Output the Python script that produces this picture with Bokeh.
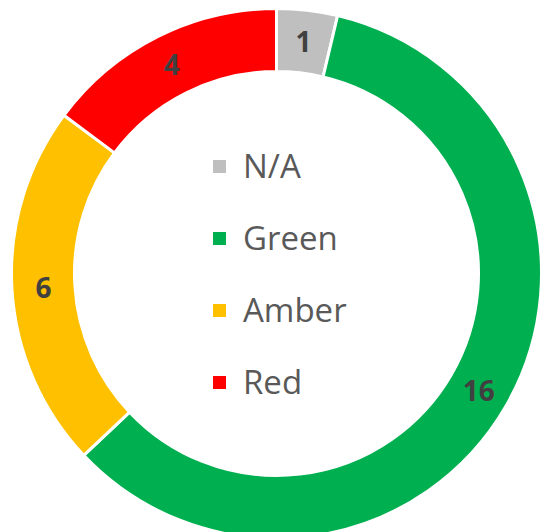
import math
from bokeh.plotting import figure
from bokeh.models import Range1d, ColumnDataSource, Legend, LegendItem
from bokeh.core.properties import value
from bokeh.embed import file_html
from bokeh.resources import INLINE

categories = ["N/A", "Green", "Amber", "Red"]
counts = [1, 16, 6, 4]
colors = ["#BFBFBF", "#00B050", "#FFC000", "#FF0000"]

total = sum(counts)
starts, ends, mids = [], [], []
cum = 0
for v in counts:
    a0 = math.pi / 2 - 2 * math.pi * cum / total
    cum += v
    a1 = math.pi / 2 - 2 * math.pi * cum / total
    starts.append(a0)
    ends.append(a1)
    mids.append((a0 + a1) / 2)

R_OUT, R_IN = 265, 202
r_mid = (R_OUT + R_IN) / 2
lx = [r_mid * math.cos(a) for a in mids]
ly = [r_mid * math.sin(a) for a in mids]

src = ColumnDataSource(dict(cat=categories, val=counts, color=colors,
                            start=starts, end=ends, lx=lx, ly=ly,
                            txt=[str(v) for v in counts]))

W, H = 542, 532
p = figure(width=W, height=H, output_backend="svg", toolbar_location=None,
           x_range=Range1d(-276, 266), y_range=Range1d(-259, 273),
           x_axis_location=None, y_axis_location=None, min_border=0)
p.grid.visible = False
p.outline_line_color = None
p.background_fill_color = "white"

r = p.annular_wedge(x=0, y=0, inner_radius=R_IN, outer_radius=R_OUT,
                    start_angle="start", end_angle="end", direction="clock",
                    fill_color="color", line_color="white", line_width=3,
                    source=src)

p.text(x="lx", y="ly", text="txt", source=src, text_align="center",
       text_baseline="middle", text_font=value("Open Sans"),
       text_font_style="bold", text_font_size="28px", text_color="#404040")

items = [LegendItem(label=c, renderers=[r], index=i) for i, c in enumerate(categories)]
legend = Legend(items=items, location=(209, 128), orientation="vertical",
                glyph_width=20, glyph_height=20, label_height=40, spacing=27,
                label_standoff=14, padding=0, margin=0,
                label_text_font="Open Sans", label_text_font_size="33px",
                label_text_color="#595959", label_text_baseline="middle",
                border_line_color=None, background_fill_alpha=0)
p.add_layout(legend, "center")

open("out.html", "w").write(file_html(p, INLINE))
